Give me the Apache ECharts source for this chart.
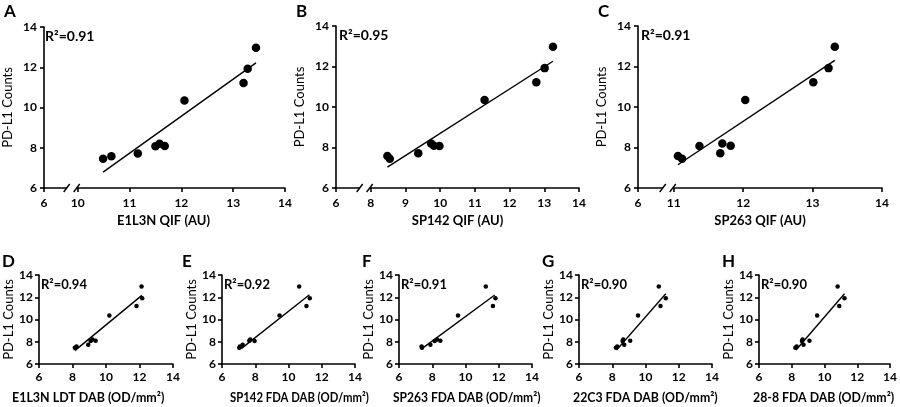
<!DOCTYPE html>
<html><head><meta charset="utf-8">
<script src="https://cdn.jsdelivr.net/npm/echarts@6/dist/echarts.min.js"></script>
<style>html,body{margin:0;padding:0;background:#fff}#c{width:900px;height:407px}</style>
</head><body><div id="c"></div>
<script>
// ---------- DATA ----------
const pdl1Counts = [7.45, 7.58, 7.72, 8.07, 8.20, 8.09, 10.35, 11.22, 11.92, 12.97];

const xE1L3N_QIF  = [10.49, 10.65, 11.16, 11.50, 11.58, 11.68, 12.06, 13.20, 13.28, 13.44];
const xSP142_QIF  = [8.55, 8.48, 9.37, 9.98, 9.74, 9.82, 11.28, 12.77, 13.01, 13.25];
const xSP263_QIF  = [11.12, 11.06, 11.67, 11.37, 11.70, 11.82, 12.03, 13.01, 13.23, 13.32];
const xE1L3N_LDT  = [8.14, 8.24, 8.94, 9.08, 9.20, 9.38, 10.20, 11.82, 12.16, 12.12];
const xSP142_FDA  = [7.04, 7.08, 7.24, 7.96, 7.70, 7.64, 9.46, 11.08, 11.28, 10.64];
const xSP263_FDA  = [7.38, 7.36, 7.89, 8.15, 8.29, 8.49, 9.55, 11.65, 11.80, 11.22];
const x22C3_FDA   = [8.22, 8.30, 8.72, 8.62, 8.66, 9.08, 9.55, 10.90, 11.22, 10.80];
const x28_8_FDA   = [8.22, 8.30, 8.72, 8.62, 8.66, 9.08, 9.55, 10.90, 11.22, 10.80];

const fitE1L3N_QIF = [[10.49, 6.79], [13.44, 12.22]];
const fitSP142_QIF = [[8.48, 7.03], [13.25, 12.26]];
const fitSP263_QIF = [[11.06, 7.15], [13.32, 12.30]];
const fitE1L3N_LDT = [[8.14, 7.20], [12.14, 12.17]];
const fitSP142_FDA = [[7.16, 7.38], [11.26, 12.23]];
const fitSP263_FDA = [[7.38, 7.38], [11.76, 12.20]];
const fit22C3_FDA  = [[8.26, 7.26], [11.22, 12.32]];
const fit28_8_FDA  = [[8.26, 7.26], [11.22, 12.32]];

const panelLetters = ['A', 'B', 'C', 'D', 'E', 'F', 'G', 'H'];
const r2Labels = ['R²=0.91', 'R²=0.95', 'R²=0.91', 'R²=0.94', 'R²=0.92', 'R²=0.91', 'R²=0.90', 'R²=0.90'];
const xAxisTitles = ['E1L3N QIF (AU)', 'SP142 QIF (AU)', 'SP263 QIF (AU)',
  'E1L3N LDT DAB (OD/mm²)', 'SP142 FDA DAB (OD/mm²)', 'SP263 FDA DAB (OD/mm²)',
  '22C3 FDA DAB (OD/mm²)', '28-8 FDA DAB (OD/mm²)'];
const yAxisTitle = 'PD-L1 Counts';
const yTicks = [6, 8, 10, 12, 14];
const xTicksA = [10, 11, 12, 13, 14];
const xTicksB = [8, 9, 10, 11, 12, 13, 14];
const xTicksC = [11, 12, 13, 14];
const xBreakLabel = '6';
const xTicksBottom = [6, 8, 10, 12, 14];

// ---------- LAYOUT ----------
const FONT = 'Lato, "Open Sans", sans-serif';
const panels = [
  {x: xE1L3N_QIF, fit: fitE1L3N_QIF, grid: {left: 42, top: 27, width: 243, height: 161}, breakPos: 9.35, ticks: xTicksA, top: true, letterXY: [4, 3]},
  {x: xSP142_QIF, fit: fitSP142_QIF, grid: {left: 336, top: 26, width: 243, height: 162}, breakPos: 7.0, ticks: xTicksB, top: true, letterXY: [296, 3]},
  {x: xSP263_QIF, fit: fitSP263_QIF, grid: {left: 638, top: 26, width: 244, height: 162}, breakPos: 10.485, ticks: xTicksC, top: true, letterXY: [598, 3]},
  {x: xE1L3N_LDT, fit: fitE1L3N_LDT, grid: {left: 39, top: 275, width: 134, height: 89}, letterXY: [2, 253], titleX: 12, titleScale: 0.89},
  {x: xSP142_FDA, fit: fitSP142_FDA, grid: {left: 222, top: 275, width: 133, height: 89}, letterXY: [182, 253], titleX: 230, titleScale: 0.81},
  {x: xSP263_FDA, fit: fitSP263_FDA, grid: {left: 399, top: 275, width: 133, height: 89}, letterXY: [362, 253], titleX: 393, titleScale: 0.86},
  {x: x22C3_FDA, fit: fit22C3_FDA, grid: {left: 579, top: 275, width: 133, height: 89}, letterXY: [542, 253], titleX: 573, titleScale: 0.88},
  {x: x28_8_FDA, fit: fit28_8_FDA, grid: {left: 759, top: 275, width: 133, height: 89}, letterXY: [722, 253], titleX: 753, titleScale: 0.88}
];

const axisLineStyle = {color: '#000', width: 1.6};
const grids = [], xAxes = [], yAxes = [], series = [], graphics = [];

panels.forEach((p, i) => {
  grids.push(Object.assign({}, p.grid));
  const xa = {
    gridIndex: i, type: 'value', max: 14,
    axisLine: {show: true, onZero: false, lineStyle: axisLineStyle},
    splitLine: {show: false},
    axisTick: {show: true, length: 4, lineStyle: axisLineStyle},
    axisLabel: {color: '#000', fontFamily: FONT, fontWeight: 'bold', fontSize: 12, margin: p.top ? 9 : 7}
  };
  if (p.top) {
    const vals = [p.breakPos].concat(p.ticks);
    xa.min = p.breakPos;
    xa.axisTick.customValues = vals;
    xa.axisLabel.customValues = vals;
    const first = p.ticks[0];
    xa.axisLabel.formatter = v => (v < first - 0.01 ? xBreakLabel : String(Math.round(v)));
  } else {
    xa.min = xTicksBottom[0];
    xa.interval = 2;
  }
  xAxes.push(xa);
  yAxes.push({
    gridIndex: i, type: 'value', min: yTicks[0], max: yTicks[yTicks.length - 1], interval: 2,
    name: yAxisTitle, nameLocation: 'middle', nameGap: p.top ? 30 : 24,
    nameTextStyle: {color: '#000', fontFamily: FONT, fontSize: 13},
    axisLine: {show: true, onZero: false, lineStyle: axisLineStyle},
    splitLine: {show: false},
    axisTick: {show: true, length: 4, lineStyle: axisLineStyle},
    axisLabel: {color: '#000', fontFamily: FONT, fontWeight: 'bold', fontSize: 12, margin: p.top ? 7 : 6}
  });
  series.push({
    type: 'line', xAxisIndex: i, yAxisIndex: i, data: p.fit, showSymbol: false, symbol: 'none',
    lineStyle: {color: '#000', width: 1.4}, silent: true, animation: false, z: 2
  });
  series.push({
    type: 'scatter', xAxisIndex: i, yAxisIndex: i,
    data: p.x.map((v, k) => [v, pdl1Counts[k]]),
    symbolSize: p.top ? 8.5 : 4.5, itemStyle: {color: '#000', opacity: 1},
    animation: false, z: 3
  });
  graphics.push({type: 'text', left: p.letterXY[0], top: p.letterXY[1],
    style: {text: panelLetters[i], font: 'bold 17px ' + FONT, fill: '#000'}});
  graphics.push({type: 'text', x: p.grid.left + (p.top ? 3 : 2), y: p.grid.top + (p.top ? 9 : 10),
    style: {text: r2Labels[i], font: 'bold ' + (p.top ? '14px ' : '13px ') + FONT, fill: '#000', textVerticalAlign: 'middle'}});
  if (p.top) {
    graphics.push({type: 'text', x: p.grid.left + p.grid.width / 2, y: 221,
      style: {text: xAxisTitles[i], font: 'bold 13px ' + FONT, fill: '#000', textAlign: 'center', textVerticalAlign: 'middle'}});
  } else {
    graphics.push({type: 'text', x: p.titleX, y: 397, scaleX: p.titleScale,
      style: {text: xAxisTitles[i], font: 'bold 14px ' + FONT, fill: '#000', textAlign: 'left', textVerticalAlign: 'middle'}});
  }
});

const chart = echarts.init(document.getElementById('c'));
chart.setOption({
  animation: false,
  backgroundColor: '#fff',
  grid: grids, xAxis: xAxes, yAxis: yAxes, series: series, graphic: graphics
});

// axis-break marks on the top x axes
const breakGraphics = [];
panels.forEach((p, i) => {
  if (!p.top) return;
  const tickPx = chart.convertToPixel({xAxisIndex: i}, p.ticks[0]);
  const axisY = chart.convertToPixel({yAxisIndex: i}, yTicks[0]);
  const c1 = tickPx - 11, c2 = tickPx - 1;
  breakGraphics.push({type: 'rect', shape: {x: c1, y: axisY - 2, width: c2 - c1, height: 4}, style: {fill: '#fff'}, z: 100});
  [c1, c2].forEach(c => breakGraphics.push({type: 'line', shape: {x1: c - 3, y1: axisY + 4, x2: c + 3, y2: axisY - 4},
    style: {stroke: '#000', lineWidth: 1.4}, z: 101}));
});
chart.setOption({graphic: graphics.concat(breakGraphics)});
</script>
</body></html>
